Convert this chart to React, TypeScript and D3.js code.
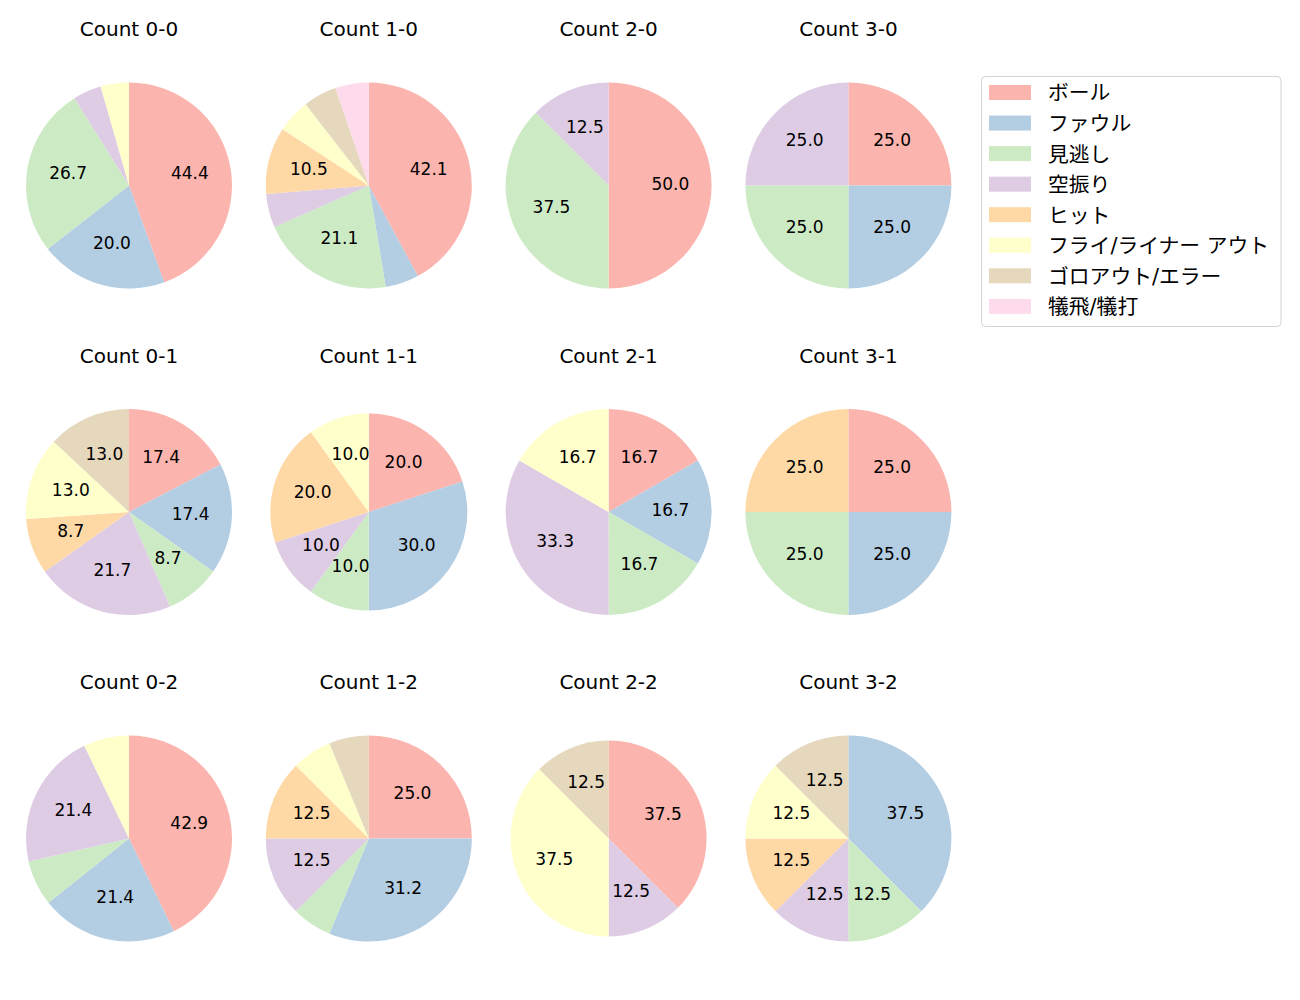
import React from "react";
import * as d3 from "d3";

// pitch results, legend order = wedge order
const categories = [
  "ボール",
  "ファウル",
  "見逃し",
  "空振り",
  "ヒット",
  "フライ/ライナー アウト",
  "ゴロアウト/エラー",
  "犠飛/犠打",
];
const colors = ["#fbb4ae", "#b3cde3", "#ccebc5", "#decbe4", "#fed9a6", "#ffffcc", "#e5d8bd", "#fddaec"];

// pitches per result for each ball-strike count (worked back from the printed percentages)
const count00 = [20, 9, 12, 2, 0, 2, 0, 0];
const count10 = [8, 1, 4, 1, 2, 1, 1, 1];
const count20 = [4, 0, 3, 1, 0, 0, 0, 0];
const count30 = [1, 1, 1, 1, 0, 0, 0, 0];
const count01 = [4, 4, 2, 5, 2, 3, 3, 0];
const count11 = [2, 3, 1, 1, 2, 1, 0, 0];
const count21 = [1, 1, 1, 2, 0, 1, 0, 0];
const count31 = [1, 1, 1, 0, 1, 0, 0, 0];
const count02 = [6, 3, 1, 3, 0, 1, 0, 0];
const count12 = [4, 5, 1, 2, 2, 1, 1, 0];
const count22 = [3, 0, 0, 1, 0, 3, 1, 0];
const count32 = [0, 3, 1, 1, 1, 1, 1, 0];

const countLabels = ["0-0", "1-0", "2-0", "3-0", "0-1", "1-1", "2-1", "3-1", "0-2", "1-2", "2-2", "3-2"];
const countValues = [count00, count10, count20, count30, count01, count11, count21, count31, count02, count12, count22, count32];

// layout
const W = 1300;
const H = 1000;
const colX0 = 129;
const colStep = 239.8;
const rowY0 = 185.5;
const rowStep = 326.5;
const baseR = 103;
const radiusAdjust: Record<string, number> = { "1-1": -4.5, "2-2": -5 };
const titleDy = -149.5;
const minLabelPct = 8;

const FONT = "'DejaVu Sans', 'Noto Sans CJK JP', sans-serif";

// python style "%.1f" (round half to even)
function fmt(p: number) {
  const v = p * 10;
  const f = Math.floor(v);
  let n;
  if (Math.abs(v - f - 0.5) < 1e-9) n = f % 2 === 0 ? f : f + 1;
  else n = Math.round(v);
  return (n / 10).toFixed(1);
}

function PiePanel({ label, values, cx, cy }: { label: string; values: number[]; cx: number; cy: number }) {
  const r = baseR + (radiusAdjust[label] ?? 0);
  const pie = d3.pie<number>().sort(null).value((d) => d);
  const arcs = pie(values);
  const arc = d3.arc<d3.PieArcDatum<number>>().innerRadius(0).outerRadius(r);
  const labelArc = d3.arc<d3.PieArcDatum<number>>().innerRadius(r * 0.6).outerRadius(r * 0.6);
  const total = d3.sum(values);

  return (
    <g transform={`translate(${cx},${cy})`}>
      <text x={0} y={titleDy} textAnchor="middle" fontSize={20} fill="#000">
        Count {label}
      </text>
      {arcs.map((a, i) => (
        <path key={i} d={arc(a) || ""} fill={colors[i]} />
      ))}
      {arcs.map((a, i) => {
        const pct = (a.value / total) * 100;
        if (pct < minLabelPct) return null;
        const [lx, ly] = labelArc.centroid(a);
        return (
          <text key={"t" + i} x={lx} y={ly} dy="0.25em" textAnchor="middle" fontSize={17} fill="#000">
            {fmt(pct)}
          </text>
        );
      })}
    </g>
  );
}

function Legend() {
  const x = 981.5;
  const y = 76.5;
  const rowH = 30.55;
  const fs = 20.8;
  return (
    <g>
      <rect x={x} y={y} width={299.5} height={250} rx={4} fill="#fff" fillOpacity={0.8} stroke="#d4d4d4" strokeWidth={1} />
      {categories.map((c, i) => {
        const yc = 92.5 + i * rowH;
        return (
          <g key={c}>
            <rect x={989} y={yc - 7.5} width={42} height={15} fill={colors[i]} />
            <text x={1048} y={yc + fs * 0.38} fontSize={fs} fill="#000">
              {c}
            </text>
          </g>
        );
      })}
    </g>
  );
}

export default function App() {
  return (
    <svg
      width={W}
      height={H}
      style={{ position: "absolute", left: 0, top: 0, fontFamily: FONT }}
    >
      <rect width={W} height={H} fill="#fff" />
      {countLabels.map((lab, i) => (
        <PiePanel
          key={lab}
          label={lab}
          values={countValues[i]}
          cx={colX0 + (i % 4) * colStep}
          cy={rowY0 + Math.floor(i / 4) * rowStep}
        />
      ))}
      <Legend />
    </svg>
  );
}
